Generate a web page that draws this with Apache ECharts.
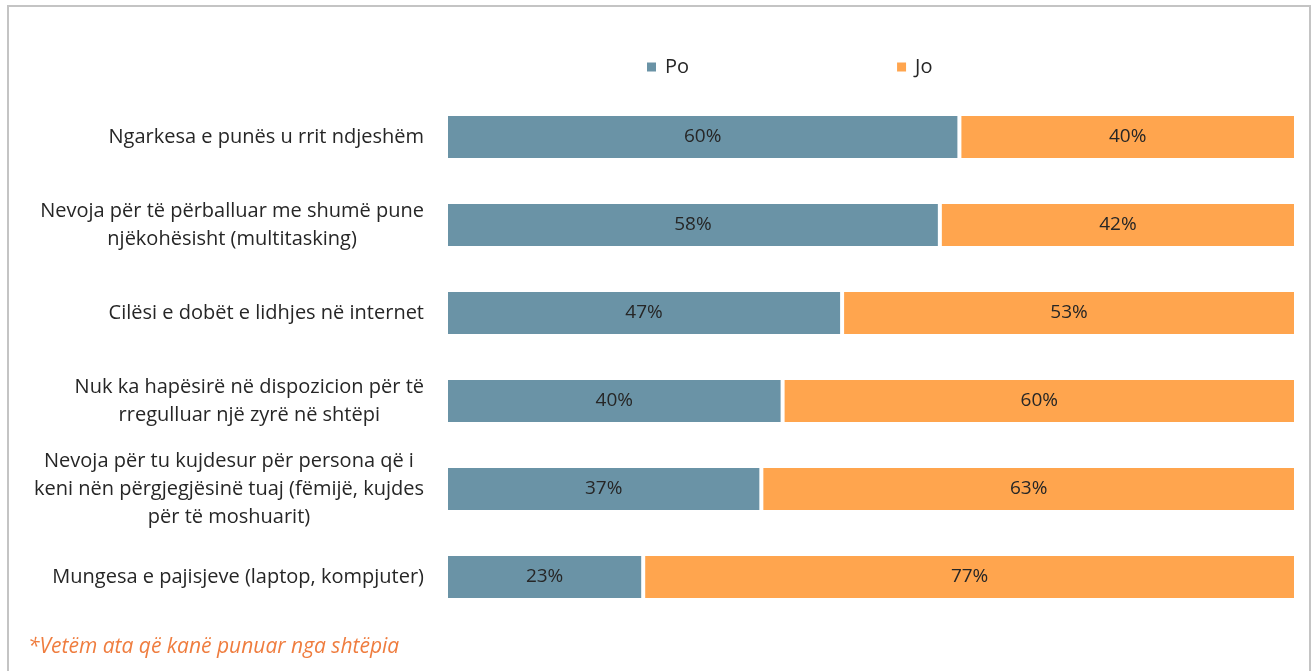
<!DOCTYPE html>
<html>
<head>
<meta charset="utf-8">
<script src="https://cdn.jsdelivr.net/npm/echarts@6/dist/echarts.min.js"></script>
<style>
html,body{margin:0;padding:0;background:#fff;}
#chart{position:absolute;left:0;top:0;width:1314px;height:671px;}
#frame{position:absolute;left:7px;top:5px;width:1304px;height:700px;border:2px solid #C4C4C4;box-sizing:border-box;pointer-events:none;}
</style>
</head>
<body>
<div id="chart"></div>
<div id="frame"></div>
<script>
const categories = [
  'Ngarkesa e punës u rrit ndjeshëm',
  'Nevoja për të përballuar me shumë pune\nnjëkohësisht (multitasking)',
  'Cilësi e dobët e lidhjes në internet',
  'Nuk ka hapësirë në dispozicion për të\nrregulluar një zyrë në shtëpi',
  'Nevoja për tu kujdesur për persona që i\nkeni nën përgjegjësinë tuaj (fëmijë, kujdes\npër të moshuarit)',
  'Mungesa e pajisjeve (laptop, kompjuter)'
];
const seriesNames = ['Po', 'Jo'];
const poValues = [60.4, 58.1, 46.6, 39.6, 37.1, 23.2];
const joValues = [39.6, 41.9, 53.4, 60.4, 62.9, 76.8];
const footnote = '*Vetëm ata që kanë punuar nga shtëpia';

const FONT = 'Open Sans';
const chart = echarts.init(document.getElementById('chart'));
const labelStyle = {
  show: true, position: 'inside', color: '#262626', fontSize: 19, fontFamily: FONT,
  formatter: p => Math.round(p.value) + '%'
};
chart.setOption({
  animation: false,
  title: {
    text: footnote, left: 23, top: 632,
    textStyle: {color: '#EF7D3F', fontStyle: 'italic', fontWeight: 'normal', fontSize: 21, fontFamily: FONT}
  },
  legend: {
    data: seriesNames, left: 640, top: 52, itemWidth: 11, itemHeight: 11, itemGap: 206,
    icon: 'rect',
    textStyle: {color: '#262626', fontSize: 20, fontFamily: FONT, padding: [0, 0, 0, 3]}
  },
  grid: {left: 446, right: 18, top: 93, bottom: 50, containLabel: false},
  xAxis: {type: 'value', min: 0, max: 100, show: false},
  yAxis: {
    type: 'category', data: categories, inverse: true,
    axisLine: {show: false}, axisTick: {show: false},
    axisLabel: {
      margin: 22, color: '#262626', fontSize: 20, fontFamily: FONT, lineHeight: 28,
      formatter: v => v.split('\n').map(l => '{c|' + l + '}').join('\n'),
      rich: {c: {align: 'center', color: '#262626', fontSize: 20, fontFamily: FONT, lineHeight: 28}}
    }
  },
  series: [
    {name: 'Po', type: 'bar', stack: 'total', data: poValues, barWidth: 46,
     itemStyle: {color: '#6A93A6', borderColor: '#fff', borderWidth: 2}, label: labelStyle},
    {name: 'Jo', type: 'bar', stack: 'total', data: joValues, barWidth: 46,
     itemStyle: {color: '#FFA54E', borderColor: '#fff', borderWidth: 2}, label: labelStyle}
  ]
});
</script>
</body>
</html>
